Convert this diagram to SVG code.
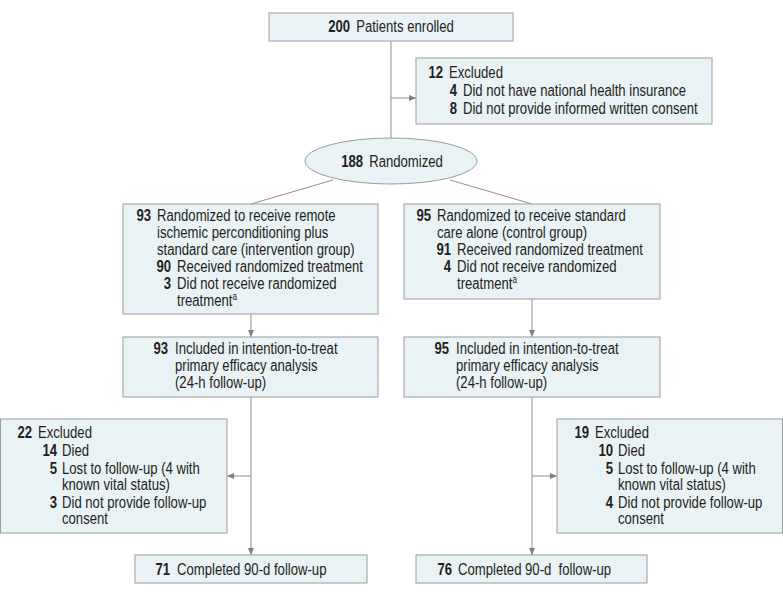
<svg xmlns="http://www.w3.org/2000/svg" width="783" height="597" viewBox="0 0 783 597">
<style>
.box{fill:#e9f2f5;stroke:#9c9c9c;stroke-width:1}
.s{transform:scale(0.82,1)}
.t{font-family:"Liberation Sans",Arial,sans-serif;font-size:16px;fill:#231f20}
.n{font-weight:bold;text-anchor:end}
.b{font-weight:bold}
.c{fill:none;stroke:#8f8f8f;stroke-width:1}
.a{marker-end:url(#arr)}
.sup{font-size:10px}
</style>
<defs>
<marker id="arr" markerUnits="userSpaceOnUse" markerWidth="7" markerHeight="6" refX="7" refY="3" orient="auto">
<path d="M0,0 L7,3 L0,6 Z" fill="#808080"/>
</marker>
</defs>
<rect width="783" height="597" fill="#ffffff"/>

<g id="connectors">
<line class="c" x1="391" y1="41" x2="391" y2="138"/>
<line class="c a" x1="391" y1="98" x2="416" y2="98"/>
<line class="c" x1="333" y1="180" x2="251" y2="204"/>
<line class="c" x1="450" y1="180" x2="532" y2="204"/>
<line class="c a" x1="251" y1="314" x2="251" y2="337"/>
<line class="c a" x1="532" y1="299" x2="532" y2="337"/>
<line class="c a" x1="251" y1="397" x2="251" y2="555"/>
<line class="c a" x1="251" y1="476" x2="227" y2="476"/>
<line class="c a" x1="532" y1="397" x2="532" y2="555"/>
<line class="c a" x1="532" y1="476" x2="557" y2="476"/>
</g>

<g id="enrolled">
<rect class="box" x="269" y="13" width="244" height="28"/>
<g class="s"><text class="t" x="476.83" y="32" text-anchor="middle"><tspan class="b">200</tspan><tspan dx="3"> Patients enrolled</tspan></text></g>
</g>

<g id="excluded-top">
<rect class="box" x="416" y="58" width="296" height="66"/>
<g class="s">
<text class="t n" x="540.24" y="78">12</text><text class="t" x="547.56" y="78">Excluded</text>
<text class="t n" x="557.32" y="96">4</text><text class="t" x="564.63" y="96">Did not have national health insurance</text>
<text class="t n" x="557.32" y="114">8</text><text class="t" x="564.63" y="114">Did not provide informed written consent</text>
</g>
</g>

<g id="randomized">
<ellipse class="box" cx="391" cy="161" rx="86" ry="23"/>
<g class="s"><text class="t" x="478.05" y="167" text-anchor="middle"><tspan class="b">188</tspan><tspan dx="3"> Randomized</tspan></text></g>
</g>

<g id="intervention">
<rect class="box" x="123" y="204" width="255" height="110"/>
<g class="s">
<text class="t n" x="184.15" y="221">93</text>
<text class="t" x="191.46" y="221">Randomized to receive remote</text>
<text class="t" x="191.46" y="238">ischemic perconditioning plus</text>
<text class="t" x="191.46" y="255">standard care (intervention group)</text>
<text class="t n" x="208.54" y="272">90</text><text class="t" x="215.85" y="272">Received randomized treatment</text>
<text class="t n" x="208.54" y="289">3</text><text class="t" x="215.85" y="289">Did not receive randomized</text>
<text class="t" x="215.85" y="306">treatment<tspan class="sup" dy="-6">a</tspan></text>
</g>
</g>

<g id="control">
<rect class="box" x="404" y="204" width="256" height="95"/>
<g class="s">
<text class="t n" x="525.61" y="221">95</text>
<text class="t" x="532.93" y="221">Randomized to receive standard</text>
<text class="t" x="532.93" y="238">care alone (control group)</text>
<text class="t n" x="550" y="255">91</text><text class="t" x="557.32" y="255">Received randomized treatment</text>
<text class="t n" x="550" y="272">4</text><text class="t" x="557.32" y="272">Did not receive randomized</text>
<text class="t" x="557.32" y="289">treatment<tspan class="sup" dy="-6">a</tspan></text>
</g>
</g>

<g id="itt-intervention">
<rect class="box" x="123" y="337" width="255" height="60"/>
<g class="s">
<text class="t n" x="204.88" y="354">93</text>
<text class="t" x="213.41" y="354">Included in intention-to-treat</text>
<text class="t" x="213.41" y="371">primary efficacy analysis</text>
<text class="t" x="213.41" y="388">(24-h follow-up)</text>
</g>
</g>

<g id="itt-control">
<rect class="box" x="404" y="337" width="256" height="60"/>
<g class="s">
<text class="t n" x="547.56" y="354">95</text>
<text class="t" x="556.1" y="354">Included in intention-to-treat</text>
<text class="t" x="556.1" y="371">primary efficacy analysis</text>
<text class="t" x="556.1" y="388">(24-h follow-up)</text>
</g>
</g>

<g id="excluded-intervention">
<rect class="box" x="0.5" y="419" width="226.5" height="114"/>
<g class="s">
<text class="t n" x="39.02" y="438">22</text><text class="t" x="46.34" y="438">Excluded</text>
<text class="t n" x="69.51" y="456">14</text><text class="t" x="75.61" y="456">Died</text>
<text class="t n" x="69.51" y="474">5</text><text class="t" x="75.61" y="474">Lost to follow-up (4 with</text>
<text class="t" x="75.61" y="490">known vital status)</text>
<text class="t n" x="69.51" y="508">3</text><text class="t" x="75.61" y="508">Did not provide follow-up</text>
<text class="t" x="75.61" y="524">consent</text>
</g>
</g>

<g id="excluded-control">
<rect class="box" x="557" y="419" width="225.5" height="114"/>
<g class="s">
<text class="t n" x="718.29" y="438">19</text><text class="t" x="725.61" y="438">Excluded</text>
<text class="t n" x="747.56" y="456">10</text><text class="t" x="753.66" y="456">Died</text>
<text class="t n" x="747.56" y="474">5</text><text class="t" x="753.66" y="474">Lost to follow-up (4 with</text>
<text class="t" x="753.66" y="490">known vital status)</text>
<text class="t n" x="747.56" y="508">4</text><text class="t" x="753.66" y="508">Did not provide follow-up</text>
<text class="t" x="753.66" y="524">consent</text>
</g>
</g>

<g id="completed-intervention">
<rect class="box" x="135" y="555" width="232" height="28"/>
<g class="s"><text class="t n" x="207.32" y="575">71</text><text class="t" x="215.85" y="575">Completed 90-d follow-up</text></g>
</g>

<g id="completed-control">
<rect class="box" x="416" y="555" width="231" height="28"/>
<g class="s"><text class="t n" x="551.22" y="575">76</text><text class="t" x="558.54" y="575" xml:space="preserve">Completed 90-d  follow-up</text></g>
</g>
</svg>
